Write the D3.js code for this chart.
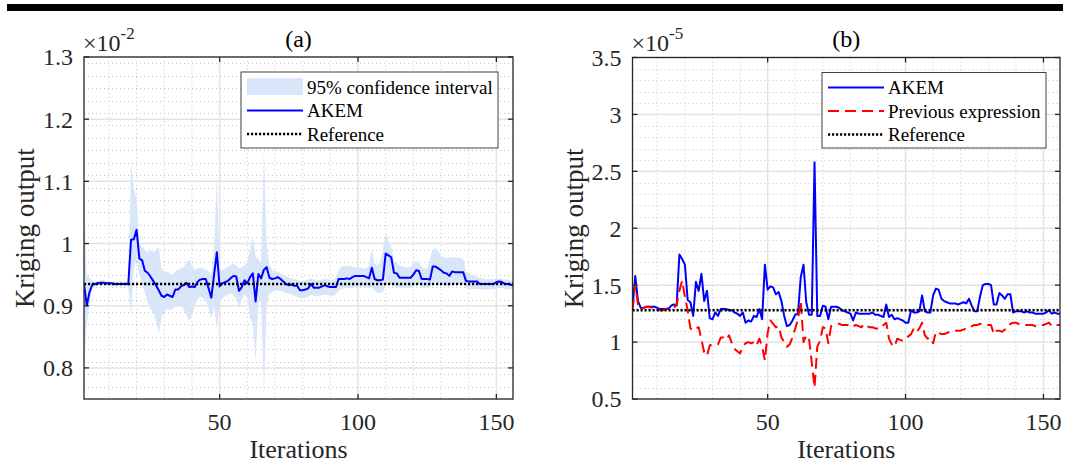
<!DOCTYPE html>
<html>
<head>
<meta charset="utf-8">
<script src="https://cdn.jsdelivr.net/npm/d3@7"></script>
<style>
  body { margin: 0; background: #fff; }
  svg { display: block; font-family: "Liberation Serif", "Times New Roman", serif; }
</style>
</head>
<body>
<svg id="fig" width="1067" height="466"></svg>
<script>
// ---- data ----
// panel (a), values x 1e-2
var akemA = [0.935,0.900,0.922,0.934,0.935,0.936,0.937,0.937,0.936,0.936,
  0.936,0.935,0.935,0.935,0.935,0.935,0.935,1.006,1.007,1.022,
  0.976,0.973,0.956,0.953,0.947,0.940,0.933,0.925,0.916,0.914,
  0.918,0.916,0.914,0.926,0.926,0.931,0.933,0.937,0.930,0.931,
  0.930,0.938,0.942,0.943,0.943,0.928,0.913,0.950,0.986,0.931,
  0.936,0.938,0.940,0.944,0.948,0.947,0.924,0.930,0.941,0.936,
  0.946,0.952,0.907,0.951,0.944,0.958,0.962,0.945,0.943,0.944,
  0.946,0.943,0.939,0.935,0.933,0.934,0.932,0.932,0.925,0.925,
  0.926,0.928,0.935,0.929,0.929,0.929,0.931,0.933,0.931,0.930,
  0.930,0.930,0.943,0.943,0.943,0.944,0.943,0.946,0.948,0.948,
  0.948,0.948,0.946,0.944,0.961,0.943,0.941,0.941,0.942,0.984,
  0.981,0.978,0.953,0.952,0.945,0.945,0.945,0.945,0.945,0.950,
  0.957,0.956,0.943,0.943,0.943,0.942,0.963,0.963,0.960,0.957,
  0.953,0.952,0.948,0.955,0.954,0.954,0.954,0.954,0.940,0.939,
  0.939,0.939,0.939,0.935,0.935,0.935,0.935,0.935,0.935,0.938,
  0.939,0.938,0.935,0.935,0.934,0.933];
var upperA = [1.090,0.950,0.945,0.940,0.939,0.940,0.941,0.941,0.940,0.940,
  0.939,0.939,0.939,0.939,0.939,0.938,0.938,1.130,1.090,1.070,
  1.000,0.995,0.990,0.985,0.990,0.985,0.990,0.995,0.960,0.955,
  0.955,0.952,0.950,0.955,0.958,0.960,0.962,0.970,0.974,0.965,
  0.958,0.960,0.962,0.960,0.958,0.955,0.950,0.990,1.110,0.960,
  0.958,0.960,0.962,0.965,0.968,0.965,0.960,0.962,0.965,0.970,
  0.990,1.010,0.980,0.975,0.970,1.150,1.000,0.965,0.958,0.955,
  0.955,0.952,0.950,0.948,0.945,0.944,0.943,0.942,0.940,0.940,
  0.941,0.942,0.944,0.942,0.941,0.941,0.942,0.943,0.942,0.941,
  0.941,0.945,0.958,0.963,0.963,0.964,0.963,0.963,0.962,0.962,
  0.961,0.960,0.960,0.965,0.990,0.968,0.965,0.970,0.990,1.017,
  1.005,0.995,0.972,0.968,0.965,0.963,0.962,0.962,0.963,0.968,
  0.972,0.970,0.962,0.960,0.960,0.975,0.990,0.993,0.988,0.980,
  0.978,0.977,0.977,0.978,0.978,0.977,0.977,0.975,0.955,0.952,
  0.950,0.948,0.946,0.945,0.944,0.943,0.943,0.943,0.943,0.944,
  0.944,0.943,0.942,0.942,0.941,0.941];
var lowerA = [0.800,0.870,0.905,0.928,0.931,0.932,0.933,0.933,0.932,0.932,
  0.931,0.931,0.931,0.931,0.931,0.932,0.930,0.885,0.960,0.975,
  0.950,0.935,0.920,0.905,0.895,0.890,0.875,0.856,0.880,0.890,
  0.895,0.893,0.895,0.898,0.900,0.900,0.895,0.885,0.875,0.885,
  0.900,0.910,0.915,0.912,0.908,0.895,0.880,0.900,0.860,0.905,
  0.912,0.915,0.918,0.920,0.918,0.910,0.895,0.910,0.918,0.912,
  0.880,0.870,0.810,0.905,0.910,0.760,0.900,0.920,0.922,0.924,
  0.925,0.924,0.922,0.920,0.919,0.918,0.916,0.914,0.912,0.912,
  0.913,0.915,0.918,0.916,0.915,0.916,0.917,0.918,0.917,0.916,
  0.916,0.918,0.925,0.927,0.928,0.928,0.928,0.929,0.930,0.930,
  0.930,0.930,0.929,0.928,0.930,0.925,0.921,0.921,0.922,0.935,
  0.935,0.935,0.932,0.930,0.929,0.929,0.929,0.929,0.929,0.932,
  0.935,0.934,0.929,0.929,0.929,0.930,0.938,0.938,0.936,0.935,
  0.933,0.932,0.930,0.935,0.935,0.935,0.935,0.935,0.928,0.927,
  0.927,0.927,0.927,0.926,0.926,0.926,0.926,0.926,0.926,0.928,
  0.929,0.929,0.927,0.927,0.926,0.926];
var refA = 0.935;

// panel (b), values x 1e-5
var akemB = [1.30,1.58,1.36,1.30,1.30,1.31,1.31,1.31,1.31,1.30,
  1.29,1.29,1.29,1.29,1.32,1.33,1.32,1.77,1.73,1.68,
  1.37,1.35,1.23,1.53,1.45,1.60,1.36,1.45,1.21,1.20,
  1.26,1.23,1.29,1.29,1.29,1.28,1.28,1.26,1.25,1.23,
  1.26,1.17,1.19,1.18,1.23,1.22,1.29,1.20,1.68,1.46,
  1.49,1.48,1.42,1.44,1.36,1.23,1.14,1.15,1.19,1.24,
  1.25,1.57,1.68,1.35,1.24,1.24,2.58,1.23,1.23,1.32,
  1.31,1.20,1.31,1.31,1.31,1.30,1.28,1.27,1.26,1.25,
  1.19,1.26,1.25,1.25,1.25,1.25,1.25,1.26,1.24,1.24,
  1.23,1.22,1.33,1.22,1.24,1.20,1.21,1.20,1.19,1.17,
  1.17,1.28,1.26,1.26,1.27,1.41,1.27,1.26,1.26,1.41,
  1.47,1.46,1.38,1.36,1.35,1.34,1.34,1.34,1.33,1.34,
  1.35,1.34,1.38,1.32,1.27,1.27,1.40,1.50,1.51,1.51,
  1.50,1.33,1.33,1.43,1.41,1.38,1.42,1.42,1.26,1.27,
  1.27,1.27,1.26,1.27,1.26,1.26,1.25,1.25,1.25,1.25,
  1.26,1.28,1.25,1.26,1.25,1.25];
var prevB = [1.28,1.50,1.33,1.29,1.30,1.31,1.31,1.30,1.29,1.28,
  1.28,1.28,1.29,1.30,1.30,1.30,1.33,1.45,1.54,1.40,
  1.28,1.12,1.10,1.12,1.13,1.02,0.91,0.88,0.97,0.98,
  0.98,0.98,1.04,1.04,1.02,1.06,0.99,0.94,0.92,0.90,
  0.96,0.99,1.00,0.99,1.00,0.97,1.03,0.96,0.84,1.08,
  1.19,1.16,1.13,1.14,1.04,1.00,0.96,0.98,1.04,1.12,
  1.20,1.36,1.00,1.06,1.03,0.82,0.60,0.96,1.01,1.13,
  1.12,0.99,1.14,1.15,1.16,1.16,1.15,1.15,1.15,1.13,
  1.14,1.15,1.14,1.13,1.16,1.14,1.13,1.13,1.12,1.12,
  1.12,1.15,1.17,1.03,0.98,0.96,1.03,1.02,1.01,1.03,
  1.05,1.07,1.12,1.09,1.12,1.17,1.06,1.03,1.04,0.99,
  1.09,1.08,1.07,1.07,1.08,1.09,1.09,1.10,1.10,1.10,
  1.11,1.12,1.14,1.14,1.15,1.15,1.16,1.16,1.16,1.15,
  1.15,1.07,1.10,1.10,1.09,1.11,1.12,1.16,1.17,1.17,
  1.16,1.15,1.15,1.15,1.15,1.15,1.14,1.14,1.15,1.15,
  1.16,1.17,1.14,1.15,1.15,1.15];
var refB = 1.28;

var xTicks = [50, 100, 150];
var yTicksA = [0.8, 0.9, 1, 1.1, 1.2, 1.3];
var yTicksB = [0.5, 1, 1.5, 2, 2.5, 3, 3.5];
var legendA = ["95% confidence interval", "AKEM", "Reference"];
var legendB = ["AKEM", "Previous expression", "Reference"];

var blue = "#0000ff", red = "#ff0000", band = "#d9e6fa";

var svg = d3.select("#fig");

// thick rule at the top of the figure
svg.append("rect").attr("x", 7).attr("y", 4).attr("width", 1056).attr("height", 7).attr("fill", "#000");

function drawPanel(p) {
  var x = d3.scaleLinear().domain([1, 156]).range([p.left, p.right]);
  var y = d3.scaleLinear().domain(p.yDomain).range([p.bottom, p.top]);
  var g = svg.append("g");
  var iters = d3.range(1, 157);

  var clipId = "clip" + p.name;
  svg.append("clipPath").attr("id", clipId).append("rect")
    .attr("x", p.left).attr("y", p.top).attr("width", p.right - p.left).attr("height", p.bottom - p.top);

  // minor grid (dotted)
  var minorX = d3.range(10, 160, 10).filter(d => d % 50 !== 0);
  var minorY = d3.range(p.yDomain[0], p.yDomain[1] + 1e-9, p.minorStep)
    .filter(v => !p.yTicks.some(t => Math.abs(t - v) < 1e-6));
  g.selectAll(".mx").data(minorX).enter().append("line")
    .attr("x1", d => x(d)).attr("x2", d => x(d)).attr("y1", p.top).attr("y2", p.bottom)
    .attr("stroke", "#c4c4c4").attr("stroke-width", 1).attr("stroke-dasharray", "1,3");
  g.selectAll(".my").data(minorY).enter().append("line")
    .attr("x1", p.left).attr("x2", p.right).attr("y1", d => Math.round(y(d)) + 0.5).attr("y2", d => Math.round(y(d)) + 0.5)
    .attr("stroke", "#c4c4c4").attr("stroke-width", 1).attr("stroke-dasharray", "1,3");

  // major grid
  g.selectAll(".gx").data(xTicks).enter().append("line")
    .attr("x1", d => x(d)).attr("x2", d => x(d)).attr("y1", p.top).attr("y2", p.bottom)
    .attr("stroke", "#e3e3e3").attr("stroke-width", 1.5);
  g.selectAll(".gy").data(p.yTicks).enter().append("line")
    .attr("x1", p.left).attr("x2", p.right).attr("y1", d => y(d)).attr("y2", d => y(d))
    .attr("stroke", "#e3e3e3").attr("stroke-width", 1.5);

  var plot = g.append("g").attr("clip-path", "url(#" + clipId + ")");

  if (p.upper) {
    var area = d3.area().x(i => x(i)).y0(i => y(p.lower[i - 1])).y1(i => y(p.upper[i - 1]));
    plot.append("path").datum(iters).attr("d", area).attr("fill", band);
  }
  var line = vals => d3.line().x(i => x(i)).y(i => y(vals[i - 1]))(iters);
  p.series.forEach(s => {
    plot.append("path").attr("d", line(s.values)).attr("fill", "none")
      .attr("stroke", s.color).attr("stroke-width", 2)
      .attr("stroke-dasharray", s.dash || null).attr("stroke-linejoin", "round");
  });
  plot.append("line").attr("x1", x(1)).attr("x2", x(156)).attr("y1", y(p.ref)).attr("y2", y(p.ref))
    .attr("stroke", "#000").attr("stroke-width", 2.5).attr("stroke-dasharray", "2.2,1.8");

  // axes box with inward ticks
  g.append("rect").attr("x", p.left).attr("y", p.top).attr("width", p.right - p.left).attr("height", p.bottom - p.top)
    .attr("fill", "none").attr("stroke", "#262626").attr("stroke-width", 1.3);
  var tl = 5;
  xTicks.forEach(t => {
    g.append("line").attr("x1", x(t)).attr("x2", x(t)).attr("y1", p.bottom).attr("y2", p.bottom - tl).attr("stroke", "#262626").attr("stroke-width", 1.3);
    g.append("line").attr("x1", x(t)).attr("x2", x(t)).attr("y1", p.top).attr("y2", p.top + tl).attr("stroke", "#262626").attr("stroke-width", 1.3);
  });
  p.yTicks.forEach(t => {
    g.append("line").attr("x1", p.left).attr("x2", p.left + tl).attr("y1", y(t)).attr("y2", y(t)).attr("stroke", "#262626").attr("stroke-width", 1.3);
    g.append("line").attr("x1", p.right).attr("x2", p.right - tl).attr("y1", y(t)).attr("y2", y(t)).attr("stroke", "#262626").attr("stroke-width", 1.3);
  });

  // tick labels
  g.selectAll(".xl").data(xTicks).enter().append("text")
    .attr("x", d => x(d)).attr("y", p.bottom + 31).attr("text-anchor", "middle")
    .attr("font-size", 24).attr("fill", "#262626").text(d => d);
  g.selectAll(".yl").data(p.yTicks).enter().append("text")
    .attr("x", p.left - 11).attr("y", d => y(d)).attr("dy", "0.35em").attr("text-anchor", "end")
    .attr("font-size", 24).attr("fill", "#262626").text(d => d);

  // exponent, title, axis labels
  var ex = g.append("text").attr("x", p.left - 1).attr("y", 51).attr("font-size", 24).attr("fill", "#262626");
  ex.append("tspan").text("\u00d710");
  ex.append("tspan").attr("dy", -12).attr("font-size", 17).text(p.exponent);
  g.append("text").attr("x", (p.left + p.right) / 2).attr("y", 47).attr("text-anchor", "middle")
    .attr("font-size", 24).attr("fill", "#000").text(p.title);
  g.append("text").attr("x", (p.left + p.right) / 2).attr("y", 458).attr("text-anchor", "middle")
    .attr("font-size", 26).attr("fill", "#262626").text("Iterations");
  g.append("text").attr("transform", "translate(" + (p.left - 50) + "," + ((p.top + p.bottom) / 2) + ") rotate(-90)")
    .attr("text-anchor", "middle").attr("font-size", 27).attr("fill", "#262626").text("Kriging output");

  // legend
  var L = p.legend;
  var lg = g.append("g");
  lg.append("rect").attr("x", L.x).attr("y", L.y).attr("width", L.w).attr("height", L.h)
    .attr("fill", "#fff").attr("stroke", "#404040").attr("stroke-width", 1);
  L.items.forEach((it, k) => {
    var cy = L.y + 15 + k * 23.5;
    if (it.type === "patch") {
      lg.append("rect").attr("x", L.x + 6).attr("y", cy - 9).attr("width", 56).attr("height", 17).attr("fill", band);
    } else {
      lg.append("line").attr("x1", L.x + 6).attr("x2", L.x + 62).attr("y1", cy).attr("y2", cy)
        .attr("stroke", it.color).attr("stroke-width", it.width).attr("stroke-dasharray", it.dash || null);
    }
    lg.append("text").attr("x", L.x + 66).attr("y", cy).attr("dy", "0.35em")
      .attr("font-size", 19).attr("fill", "#000").text(it.label);
  });
}

drawPanel({
  name: "a", left: 84, right: 513, top: 57, bottom: 399,
  yDomain: [0.75, 1.3], yTicks: yTicksA, minorStep: 0.02,
  exponent: "-2", title: "(a)", ref: refA,
  upper: upperA, lower: lowerA,
  series: [{ values: akemA, color: blue }],
  legend: { x: 241, y: 72, w: 257, h: 76, items: [
    { type: "patch", label: legendA[0] },
    { label: legendA[1], color: blue, width: 2 },
    { label: legendA[2], color: "#000", width: 2.5, dash: "2.2,1.8" }
  ] }
});

drawPanel({
  name: "b", left: 632.5, right: 1060, top: 57.5, bottom: 399,
  yDomain: [0.5, 3.5], yTicks: yTicksB, minorStep: 0.1,
  exponent: "-5", title: "(b)", ref: refB,
  series: [{ values: akemB, color: blue }, { values: prevB, color: red, dash: "11,6" }],
  legend: { x: 822, y: 72.5, w: 224, h: 75.5, items: [
    { label: legendB[0], color: blue, width: 2 },
    { label: legendB[1], color: red, width: 2, dash: "11,6" },
    { label: legendB[2], color: "#000", width: 2.5, dash: "2.2,1.8" }
  ] }
});
</script>
</body>
</html>
